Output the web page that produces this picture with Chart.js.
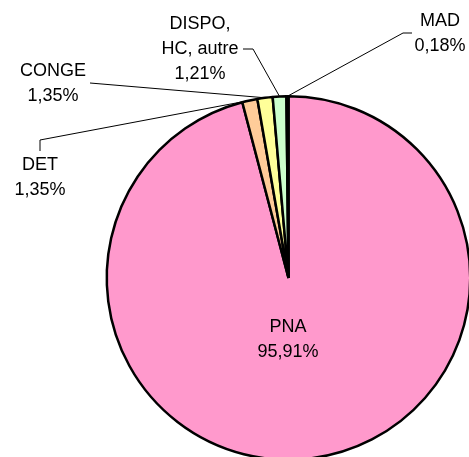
<!DOCTYPE html>
<html>
<head>
<meta charset="utf-8">
<script src="https://cdn.jsdelivr.net/npm/chart.js@4/dist/chart.umd.min.js"></script>
<style>
  html, body { margin: 0; padding: 0; background: #fff; overflow: hidden; }
  #wrap { width: 472px; height: 470px; position: relative; }
</style>
</head>
<body>
<div id="wrap"><canvas id="pie"></canvas></div>
<script>
const categories = ["PNA", "DET", "CONGE", "DISPO,\nHC, autre", "MAD"];
const values = [95.91, 1.35, 1.35, 1.21, 0.18];
const colors = ["#ff99cc", "#ffcc99", "#ffff99", "#ccffcc", "#99ccff"];

const fmtPct = (v) => v.toFixed(2).replace(".", ",") + "%";

// where each label sits, and the elbow of its leader line (null = inside the slice)
const labelLayout = [
    { x: 288, y: 327, leader: null },
    { x: 40, y: 165, leader: [[40, 151], [40, 140]] },
    { x: 53, y: 71, leader: [[90, 83]] },
    { x: 200, y: 24, leader: [[243, 49], [253, 49]] },
    { x: 440, y: 21, leader: [[412, 33], [403, 33]] }
];

const sliceLabels = {
    id: "sliceLabels",
    afterDraw(chart) {
        const ctx = chart.ctx;
        const arcs = chart.getDatasetMeta(0).data;
        ctx.save();
        ctx.font = "18px 'Liberation Sans', Arial, sans-serif";
        ctx.fillStyle = "#000";
        ctx.textAlign = "center";
        ctx.textBaseline = "middle";
        arcs.forEach((arc, i) => {
            const L = labelLayout[i];
            const lines = categories[i].split("\n").concat(fmtPct(values[i]));
            lines.forEach((t, k) => ctx.fillText(t, L.x, L.y + k * 25));
            if (!L.leader) return;
            const mid = (arc.startAngle + arc.endAngle) / 2;
            const r = arc.outerRadius;
            ctx.beginPath();
            ctx.moveTo(L.leader[0][0], L.leader[0][1]);
            L.leader.slice(1).forEach(p => ctx.lineTo(p[0], p[1]));
            ctx.lineTo(arc.x + Math.cos(mid) * r, arc.y + Math.sin(mid) * r);
            ctx.strokeStyle = "#000";
            ctx.lineWidth = 1;
            ctx.stroke();
        });
        ctx.restore();
    }
};

new Chart(document.getElementById("pie"), {
    type: "pie",
    data: {
        labels: categories,
        datasets: [{
            data: values,
            backgroundColor: colors,
            borderColor: "#000",
            borderWidth: 2.5
        }]
    },
    options: {
        responsive: true,
        maintainAspectRatio: false,
        animation: false,
        layout: { padding: { left: 105, right: 0, top: 95, bottom: 9 } },
        plugins: {
            legend: { display: false },
            tooltip: { enabled: false }
        }
    },
    plugins: [sliceLabels]
});
</script>
</body>
</html>
